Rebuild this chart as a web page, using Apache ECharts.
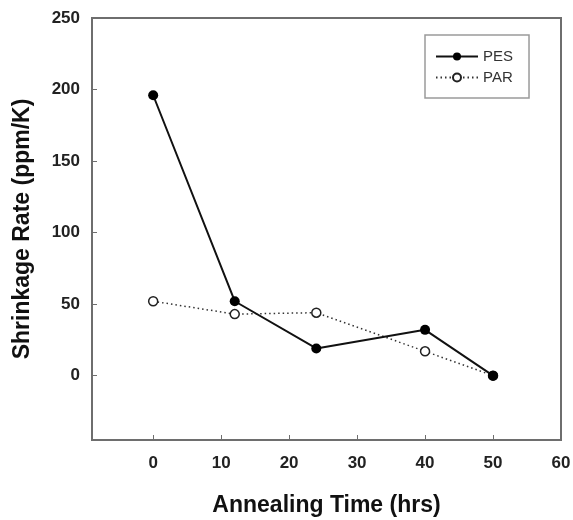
<!DOCTYPE html>
<html>
<head>
<meta charset="utf-8">
<script src="https://cdn.jsdelivr.net/npm/echarts@6/dist/echarts.min.js"></script>
<style>
  html, body { margin: 0; padding: 0; background: #fff; }
  #chart { width: 573px; height: 520px; }
</style>
</head>
<body>
<div id="chart"></div>
<script>
// annealing time (hrs)
var hours = [0, 12, 24, 40, 50];
var pes = [196, 52, 19, 32, 0];
var par = [52, 43, 44, 17, 0];
var xTicks = [0, 10, 20, 30, 40, 50, 60];
var yTicks = [0, 50, 100, 150, 200, 250];

function pairs(vals) {
  var out = [];
  for (var i = 0; i < hours.length; i++) {
    out.push([hours[i], vals[i]]);
  }
  return out;
}

var chart = echarts.init(document.getElementById("chart"));
var axisColor = "#6e6e6e";
var fontFam = "Liberation Sans, Arial, sans-serif";

var option = {
  animation: false,
  textStyle: { fontFamily: fontFam },
  grid: {
    left: 92,
    top: 18,
    right: 12,
    bottom: 80,
    outerBoundsMode: "none",
    show: true,
    borderColor: axisColor,
    borderWidth: 2,
    backgroundColor: "#fff"
  },
  legend: {
    orient: "vertical",
    left: 425,
    top: 35,
    padding: [14, 16, 13, 10],
    itemGap: 6,
    itemWidth: 42,
    itemHeight: 10,
    borderColor: "#9a9a9a",
    borderWidth: 1.5,
    textStyle: { fontSize: 15, color: "#333", fontFamily: fontFam },
    data: ["PES", "PAR"]
  },
  xAxis: {
    type: "value",
    min: -9,
    max: 60,
    name: "Annealing Time (hrs)",
    nameLocation: "middle",
    nameGap: 54,
    nameTextStyle: { fontSize: 23, fontWeight: "bold", color: "#111" },
    axisLine: { show: true, onZero: false, lineStyle: { color: axisColor, width: 2 } },
    axisTick: { show: true, inside: true, length: 5, customValues: xTicks, lineStyle: { color: axisColor } },
    axisLabel: { customValues: xTicks, fontSize: 17, fontWeight: "bold", color: "#222", margin: 15 },
    splitLine: { show: false }
  },
  yAxis: {
    type: "value",
    min: -45,
    max: 250,
    name: "Shrinkage Rate (ppm/K)",
    nameLocation: "middle",
    nameGap: 58,
    nameTextStyle: { fontSize: 23, fontWeight: "bold", color: "#111" },
    axisLine: { show: true, onZero: false, lineStyle: { color: axisColor, width: 2 } },
    axisTick: { show: true, inside: true, length: 5, customValues: yTicks, lineStyle: { color: axisColor } },
    axisLabel: { customValues: yTicks, fontSize: 17, fontWeight: "bold", color: "#222", margin: 12 },
    splitLine: { show: false }
  },
  series: [
    {
      name: "PES",
      type: "line",
      data: pairs(pes),
      symbol: "circle",
      symbolSize: 10,
      itemStyle: { color: "#000" },
      lineStyle: { color: "#111", width: 2 },
      z: 3
    },
    {
      name: "PAR",
      type: "line",
      data: pairs(par),
      symbol: "circle",
      symbolSize: 9,
      itemStyle: { color: "#fff", borderColor: "#222", borderWidth: 1.5 },
      lineStyle: { color: "#333", width: 1.5, type: [1.5, 3] },
      z: 2
    }
  ]
};

chart.setOption(option);
</script>
</body>
</html>
